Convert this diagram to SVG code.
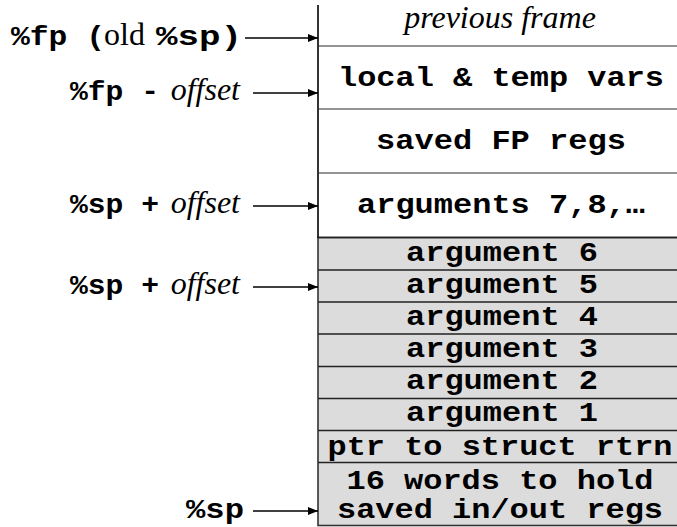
<svg xmlns="http://www.w3.org/2000/svg" width="677" height="527" viewBox="0 0 677 527">
<defs>
<style>
.mono{font-family:"Liberation Mono","Courier New",monospace;font-weight:bold;font-size:27px;fill:#000}
.serif{font-family:"Liberation Serif","Times New Roman",serif;font-weight:normal;font-size:32px;fill:#000}
.ital{font-style:italic}
.cell{text-anchor:middle}
.lbl{text-anchor:end}
.sepw{stroke:#707070;stroke-width:1.6}
.sepg{stroke:#222;stroke-width:1.6}
.arr{stroke:#000;stroke-width:1.3;fill:none;marker-end:url(#ah)}
</style>
<marker id="ah" viewBox="0 0 10 8" refX="10" refY="4" markerWidth="10" markerHeight="8" markerUnits="userSpaceOnUse" orient="auto">
<path d="M0,0 L10,4 L0,8 Z" fill="#000"/>
</marker>
</defs>
<rect width="677" height="527" fill="#fff"/>
<g id="stack">
<rect x="318" y="237.5" width="360" height="288" fill="#dcdcdc" stroke="#333" stroke-width="1.6"/>
<line x1="318" y1="5" x2="318" y2="238" stroke="#000" stroke-width="1.6"/>
<line class="sepw" x1="319" y1="46" x2="677" y2="46"/>
<line class="sepw" x1="319" y1="109" x2="677" y2="109"/>
<line class="sepw" x1="319" y1="173" x2="677" y2="173"/>
<line class="sepg" x1="318" y1="237.5" x2="677" y2="237.5" stroke-width="2.2"/>
<line class="sepg" x1="318" y1="270" x2="677" y2="270"/>
<line class="sepg" x1="318" y1="302" x2="677" y2="302"/>
<line class="sepg" x1="318" y1="334" x2="677" y2="334"/>
<line class="sepg" x1="318" y1="366.5" x2="677" y2="366.5"/>
<line class="sepg" x1="318" y1="398.5" x2="677" y2="398.5"/>
<line class="sepg" x1="318" y1="430.5" x2="677" y2="430.5"/>
<line class="sepg" x1="318" y1="462.5" x2="677" y2="462.5"/>
</g>
<g id="previous-frame"><text class="serif ital cell" x="500" y="28">previous frame</text></g>
<g id="local-temp"><text class="mono cell" x="501" y="86" textLength="326" lengthAdjust="spacingAndGlyphs">local &amp; temp vars</text></g>
<g id="saved-fp"><text class="mono cell" x="501" y="149" textLength="250" lengthAdjust="spacingAndGlyphs">saved FP regs</text></g>
<g id="args-7-8"><text class="mono cell" x="501" y="213" textLength="288" lengthAdjust="spacingAndGlyphs">arguments 7,8,…</text></g>
<g id="arg6"><text class="mono cell" x="502" y="261" textLength="192" lengthAdjust="spacingAndGlyphs">argument 6</text></g>
<g id="arg5"><text class="mono cell" x="502" y="293" textLength="192" lengthAdjust="spacingAndGlyphs">argument 5</text></g>
<g id="arg4"><text class="mono cell" x="502" y="325" textLength="192" lengthAdjust="spacingAndGlyphs">argument 4</text></g>
<g id="arg3"><text class="mono cell" x="502" y="357" textLength="192" lengthAdjust="spacingAndGlyphs">argument 3</text></g>
<g id="arg2"><text class="mono cell" x="502" y="389" textLength="192" lengthAdjust="spacingAndGlyphs">argument 2</text></g>
<g id="arg1"><text class="mono cell" x="502" y="421" textLength="192" lengthAdjust="spacingAndGlyphs">argument 1</text></g>
<g id="ptr-struct"><text class="mono cell" x="500" y="455" textLength="345" lengthAdjust="spacingAndGlyphs">ptr to struct rtrn</text></g>
<g id="saved-inout"><text class="mono cell" x="500" y="489" textLength="307" lengthAdjust="spacingAndGlyphs">16 words to hold</text><text class="mono cell" x="500" y="518" textLength="326" lengthAdjust="spacingAndGlyphs">saved in/out regs</text></g>
<g id="label-fp-old-sp">
<text class="mono" x="11" y="45" textLength="94" lengthAdjust="spacingAndGlyphs">%fp (</text>
<text class="serif" x="104" y="45">old</text>
<text class="mono" x="156" y="45" textLength="86" lengthAdjust="spacingAndGlyphs">%sp)</text>
</g>
<g id="label-fp-offset">
<text class="mono" x="70" y="100" textLength="89" lengthAdjust="spacingAndGlyphs">%fp -</text>
<text class="serif ital lbl" x="240" y="100">offset</text>
</g>
<g id="label-sp-offset-1">
<text class="mono" x="70" y="213" textLength="89" lengthAdjust="spacingAndGlyphs">%sp +</text>
<text class="serif ital lbl" x="240" y="213">offset</text>
</g>
<g id="label-sp-offset-2">
<text class="mono" x="70" y="294" textLength="89" lengthAdjust="spacingAndGlyphs">%sp +</text>
<text class="serif ital lbl" x="240" y="294">offset</text>
</g>
<g id="label-sp"><text class="mono lbl" x="244" y="518" textLength="58" lengthAdjust="spacingAndGlyphs">%sp</text></g>
<g id="connectors">
<line class="arr" x1="245" y1="38" x2="318" y2="38"/>
<line class="arr" x1="253" y1="93" x2="318" y2="93"/>
<line class="arr" x1="253" y1="206" x2="318" y2="206"/>
<line class="arr" x1="253" y1="287" x2="318" y2="287"/>
<line class="arr" x1="253" y1="511" x2="318" y2="511"/>
</g>
</svg>
